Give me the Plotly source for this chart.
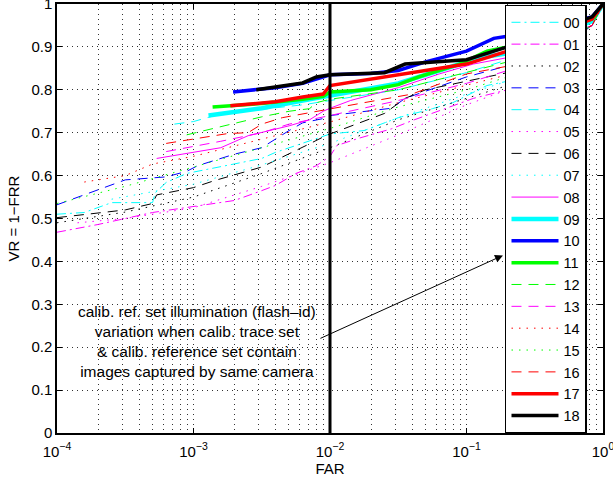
import plotly.graph_objects as go

# ---------------- data (log10 FAR, VR) ----------------
series_names = ["00", "01", "02", "03", "04", "05", "06", "07", "08", "09",
                "10", "11", "12", "13", "14", "15", "16", "17", "18"]

log_far_00 = [-4, -3.8, -3.6, -3.3, -3.28, -3.2, -3.05, -2.9, -2.7, -2.5, -2.4, -2.2, -2, -1.75, -1.5, -1.25, -1.1, -0.85, -0.7, -0.08, 0]
vr_00 = [0.51, 0.514, 0.537, 0.537, 0.56, 0.584, 0.605, 0.615, 0.627, 0.64, 0.654, 0.675, 0.697, 0.705, 0.735, 0.756, 0.77, 0.81, 0.82, 0.95, 1.0]

log_far_01 = [-4, -3.7, -3.3, -2.7, -2.5, -2.4, -2.25, -2.1, -2, -1.95, -1.8, -1.55, -1.4, -1.1, -0.95, -0.7, -0.08, 0]
vr_01 = [0.468, 0.486, 0.514, 0.542, 0.565, 0.577, 0.605, 0.623, 0.645, 0.67, 0.686, 0.709, 0.728, 0.763, 0.78, 0.80, 0.95, 1.0]

log_far_02 = [-4, -3.5, -3, -2.5, -2, -1.5, -1, -0.7, -0.08, 0]
vr_02 = [0.49, 0.515, 0.55, 0.605, 0.665, 0.73, 0.78, 0.81, 0.95, 1.0]

log_far_03 = [-4, -3.5, -3.2, -3.05, -2.97, -2.7, -2.5, -2.4, -2.3, -2.2, -2.05, -2, -1.75, -1.55, -1.45, -1, -0.7, -0.08, 0]
vr_03 = [0.532, 0.59, 0.597, 0.61, 0.623, 0.65, 0.665, 0.686, 0.705, 0.723, 0.733, 0.74, 0.75, 0.757, 0.78, 0.83, 0.856, 0.95, 1.0]

log_far_04 = [-3.14, -3, -2.8, -2.5, -2.2, -2, -1.5, -1, -0.7, -0.08, 0]
vr_04 = [0.72, 0.726, 0.744, 0.755, 0.765, 0.775, 0.80, 0.84, 0.87, 0.95, 1.0]

log_far_05 = [-3.85, -3.5, -3, -2.5, -2, -1.5, -1, -0.7, -0.08, 0]
vr_05 = [0.49, 0.50, 0.525, 0.575, 0.63, 0.695, 0.765, 0.80, 0.95, 1.0]

log_far_06 = [-4, -3.5, -3.3, -3.27, -3, -2.85, -2.5, -2.3, -2.15, -2.05, -2, -1.6, -1.45, -1.3, -1, -0.7, -0.08, 0]
vr_06 = [0.502, 0.52, 0.535, 0.555, 0.572, 0.588, 0.62, 0.65, 0.674, 0.69, 0.697, 0.745, 0.78, 0.80, 0.82, 0.84, 0.95, 1.0]

log_far_07 = [-3.6, -3, -2.5, -2, -1.5, -1, -0.7, -0.08, 0]
vr_07 = [0.545, 0.58, 0.625, 0.675, 0.735, 0.79, 0.82, 0.95, 1.0]

log_far_08 = [-3.27, -2.8, -2.6, -2.45, -2.3, -2.15, -2.05, -2, -1.85, -1.5, -1.2, -0.95, -0.7, -0.08, 0]
vr_08 = [0.64, 0.665, 0.693, 0.705, 0.716, 0.73, 0.75, 0.757, 0.775, 0.805, 0.837, 0.86, 0.875, 0.95, 1.0]

log_far_09 = [-2.89, -2.5, -2.2, -2, -1.5, -1.2, -0.9, -0.7, -0.08, 0]
vr_09 = [0.74, 0.757, 0.775, 0.787, 0.815, 0.845, 0.875, 0.885, 0.96, 1.0]

log_far_10 = [-2.71, -2.4, -2.2, -2.05, -2, -1.7, -1.5, -1.3, -1, -0.8, -0.7, -0.08, 0]
vr_10 = [0.795, 0.805, 0.815, 0.83, 0.835, 0.838, 0.845, 0.865, 0.89, 0.92, 0.925, 0.97, 1.0]

log_far_11 = [-2.86, -2.5, -2.2, -2.05, -2, -1.7, -1.5, -1.35, -1.05, -0.85, -0.7, -0.08, 0]
vr_11 = [0.76, 0.768, 0.778, 0.785, 0.795, 0.80, 0.812, 0.83, 0.86, 0.89, 0.90, 0.965, 1.0]

log_far_12 = [-3.05, -2.85, -2.6, -2.5, -2.3, -2.15, -2.1, -2, -1.5, -1, -0.7, -0.08, 0]
vr_12 = [0.695, 0.71, 0.728, 0.737, 0.75, 0.756, 0.77, 0.778, 0.80, 0.84, 0.865, 0.95, 1.0]

log_far_13 = [-3.2, -3, -2.8, -2.5, -2.3, -2, -1.5, -1, -0.7, -0.08, 0]
vr_13 = [0.656, 0.668, 0.68, 0.70, 0.72, 0.74, 0.775, 0.815, 0.845, 0.95, 1.0]

log_far_14 = [-3.8, -3.5, -3.3, -3, -2.5, -2, -1.5, -1, -0.7, -0.08, 0]
vr_14 = [0.585, 0.60, 0.627, 0.645, 0.685, 0.725, 0.77, 0.81, 0.835, 0.95, 1.0]

log_far_15 = [-4, -3.5, -3, -2.5, -2, -1.5, -1, -0.7, -0.08, 0]
vr_15 = [0.535, 0.575, 0.62, 0.665, 0.71, 0.76, 0.80, 0.83, 0.95, 1.0]

log_far_16 = [-3.2, -3, -2.75, -2.6, -2.5, -2.35, -2.2, -2, -1.75, -1.4, -1, -0.7, -0.08, 0]
vr_16 = [0.675, 0.685, 0.698, 0.70, 0.72, 0.735, 0.744, 0.755, 0.77, 0.79, 0.837, 0.855, 0.95, 1.0]

log_far_17 = [-2.73, -2.4, -2.2, -2.05, -2, -1.7, -1.5, -1.3, -1, -0.7, -0.08, 0]
vr_17 = [0.763, 0.772, 0.783, 0.79, 0.81, 0.825, 0.835, 0.845, 0.86, 0.89, 0.965, 1.0]

log_far_18 = [-2.54, -2.2, -2.1, -2, -1.6, -1.45, -1, -0.7, -0.08, 0]
vr_18 = [0.80, 0.816, 0.83, 0.835, 0.84, 0.86, 0.87, 0.90, 0.97, 1.0]

threshold_far = 0.01
x_tick_vals = [1e-4, 1e-3, 1e-2, 1e-1, 1]
x_tick_text = ["10<sup>−4</sup>", "10<sup>−3</sup>", "10<sup>−2</sup>", "10<sup>−1</sup>", "10<sup>0</sup>"]
y_tick_vals = [0, 0.1, 0.2, 0.3, 0.4, 0.5, 0.6, 0.7, 0.8, 0.9, 1]
y_tick_text = ["0", "0.1", "0.2", "0.3", "0.4", "0.5", "0.6", "0.7", "0.8", "0.9", "1"]

annotation_text = ("calib. ref. set illumination (flash–id)<br>variation when calib. trace set<br>"
                   "& calib. reference set contain<br>images captured by same camera")

all_log_far = [log_far_00, log_far_01, log_far_02, log_far_03, log_far_04, log_far_05, log_far_06,
               log_far_07, log_far_08, log_far_09, log_far_10, log_far_11, log_far_12, log_far_13,
               log_far_14, log_far_15, log_far_16, log_far_17, log_far_18]
all_vr = [vr_00, vr_01, vr_02, vr_03, vr_04, vr_05, vr_06, vr_07, vr_08, vr_09, vr_10, vr_11,
          vr_12, vr_13, vr_14, vr_15, vr_16, vr_17, vr_18]

# ---------------- styles ----------------
CY, MG, BK, BL, GR, RD = "#00ffff", "#ff00ff", "#000000", "#0000ff", "#00ff00", "#ff0000"
DASHDOT = "9px,4px,2px,4px"
DASH = "10px,7px"
DOT = "1.5px,6px"
styles = [
    (CY, DASHDOT, 1), (MG, DASHDOT, 1), (BK, DOT, 1), (BL, DASH, 1), (CY, DASH, 1),
    (MG, DOT, 1), (BK, DASH, 1), (CY, DOT, 1), (MG, "solid", 1), (CY, "solid", 4.5),
    (BL, "solid", 3.5), (GR, "solid", 3.5), (GR, DASH, 1), (MG, DASH, 1), (RD, DOT, 1),
    (GR, DOT, 1), (RD, DASH, 1), (RD, "solid", 3.5), (BK, "solid", 3.5),
]

fig = go.Figure()
for name, lf, vr, (col, dash, w) in zip(series_names, all_log_far, all_vr, styles):
    fig.add_trace(go.Scatter(
        x=[10 ** e for e in lf], y=vr, mode="lines", name=name,
        line=dict(color=col, dash=dash, width=w),
    ))

fig.add_trace(go.Scatter(
    x=[threshold_far, threshold_far], y=[0, 1], mode="lines", showlegend=False,
    line=dict(color="black", width=3), hoverinfo="skip",
))

FONT = "Liberation Sans, Arial, Helvetica, sans-serif"
GRIDC = "#333333"
GRIDDASH = "1px,4px"

fig.update_layout(
    width=613, height=477,
    margin=dict(l=57, r=10, t=4, b=44, autoexpand=False),
    paper_bgcolor="white", plot_bgcolor="white",
    font=dict(family=FONT, size=15, color="black"),
    showlegend=True,
    legend=dict(
        x=0.8205, y=0.998, xanchor="left", yanchor="top",
        bgcolor="white", bordercolor="black", borderwidth=1.5,
        font=dict(size=14.5), itemwidth=47, tracegroupgap=0,
    ),
    xaxis=dict(
        type="log", range=[-4, 0], automargin=False,
        tickvals=x_tick_vals, ticktext=x_tick_text,
        ticks="inside", ticklen=5, tickcolor="black", mirror="ticks",
        ticklabeloverflow="allow", ticklabelstandoff=4,
        showline=True, linecolor="black", linewidth=1.5,
        showgrid=True, gridcolor=GRIDC, griddash=GRIDDASH, gridwidth=1,
        minor=dict(dtick="D1", showgrid=True, gridcolor=GRIDC, griddash=GRIDDASH, gridwidth=1, ticks=""),
        zeroline=False,
        title=dict(text="FAR", standoff=6, font=dict(size=15)),
        tickfont=dict(size=15),
    ),
    yaxis=dict(
        range=[0, 1], automargin=False,
        tickvals=y_tick_vals, ticktext=y_tick_text,
        ticks="inside", ticklen=5, tickcolor="black", mirror="ticks",
        ticklabeloverflow="allow",
        showline=True, linecolor="black", linewidth=1.5,
        showgrid=True, gridcolor=GRIDC, griddash=GRIDDASH, gridwidth=1,
        zeroline=False,
        title=dict(text="VR = 1−FRR", standoff=8, font=dict(size=15)),
        tickfont=dict(size=15),
    ),
    annotations=[
        dict(x=-2.974, y=0.213, xref="x", yref="y", text=annotation_text, showarrow=False,
             xanchor="center", yanchor="middle", align="center",
             font=dict(size=15.5, family=FONT), bgcolor="rgba(0,0,0,0)"),
        dict(x=-0.733, y=0.414, xref="x", yref="y", ax=-2.081, ay=0.219, axref="x", ayref="y",
             text="", showarrow=True, arrowhead=2, arrowsize=1.6, arrowwidth=1, arrowcolor="black"),
    ],
)

fig.write_html("out.html")
